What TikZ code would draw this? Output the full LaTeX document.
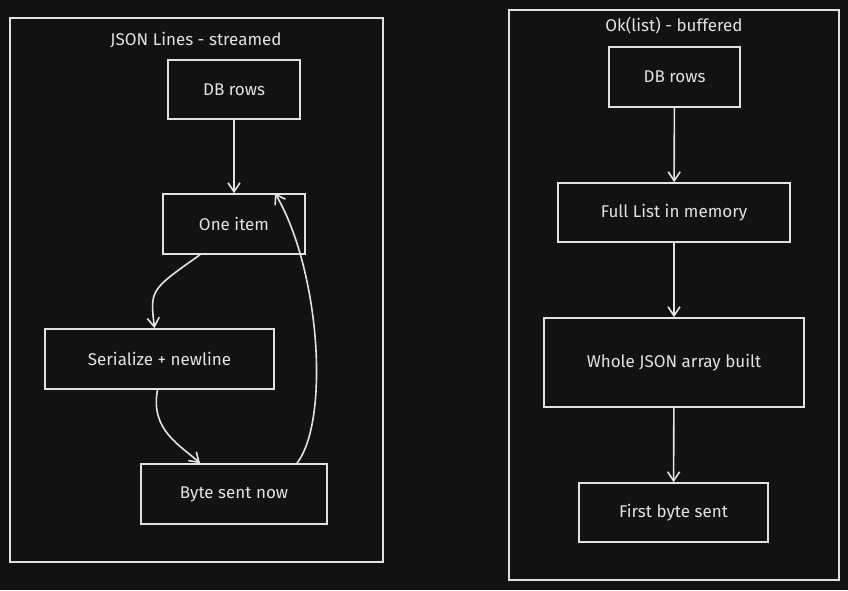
\documentclass[tikz,border=0pt]{standalone}
\usepackage{fontspec}
\usetikzlibrary{arrows.meta}
\setmainfont{Fira Sans}
\definecolor{bg}{HTML}{121212}
\definecolor{fg}{HTML}{E2E2E2}
\begin{document}
\begin{tikzpicture}[x=1pt,y=-1pt,
  box/.style={draw=fg,line width=1.6pt,text=fg,font=\fontsize{17}{20}\selectfont},
  frame/.style={draw=fg,line width=1.6pt},
  ttl/.style={text=fg,font=\fontsize{17}{20}\selectfont},
  arr/.style={draw=fg,line width=1.6pt,-{Straight Barb[length=9pt,width=12pt]}}]
\useasboundingbox[fill=bg] (0,0) rectangle (848,590);
\draw[frame] (10,18) rectangle (383,562);
\draw[frame] (509,10) rectangle (839,580);
\node[ttl] (t1) at (196,40) {JSON Lines - streamed};
\node[ttl] (t2) at (674,26) {Ok(list) - buffered};
\node[box,minimum width=132pt,minimum height=59pt] (a1) at (234,89.5) {DB rows};
\node[box,minimum width=142pt,minimum height=60pt] (a2) at (234,224) {One item};
\node[box,minimum width=229pt,minimum height=60pt] (a3) at (159.5,359) {Serialize + newline};
\node[box,minimum width=186pt,minimum height=60pt] (a4) at (234,494) {Byte sent now};
\node[box,minimum width=131pt,minimum height=60pt] (b1) at (674.5,77) {DB rows};
\node[box,minimum width=232pt,minimum height=59pt] (b2) at (674,212.5) {Full List in memory};
\node[box,minimum width=260pt,minimum height=89pt] (b3) at (674,362.5) {Whole JSON array built};
\node[box,minimum width=189pt,minimum height=59pt] (b4) at (673.5,512.5) {First byte sent};
\draw[arr] (a1) -- (a2);
\draw[arr] ([xshift=-34pt]a2.south) .. controls (150,290) .. ([xshift=-5pt]a3.north);
\draw[arr] ([xshift=-2pt]a3.south) .. controls (150,430) and (180,445) .. ([xshift=-34pt]a4.north);
\draw[arr] ([xshift=63pt]a4.north) .. controls (330,420) and (320,270) .. ([xshift=41pt]a2.north);
\draw[arr] (b1) -- (b2);
\draw[arr] (b2) -- (b3);
\draw[arr] (b3) -- (b4);
\end{tikzpicture}
\end{document}
